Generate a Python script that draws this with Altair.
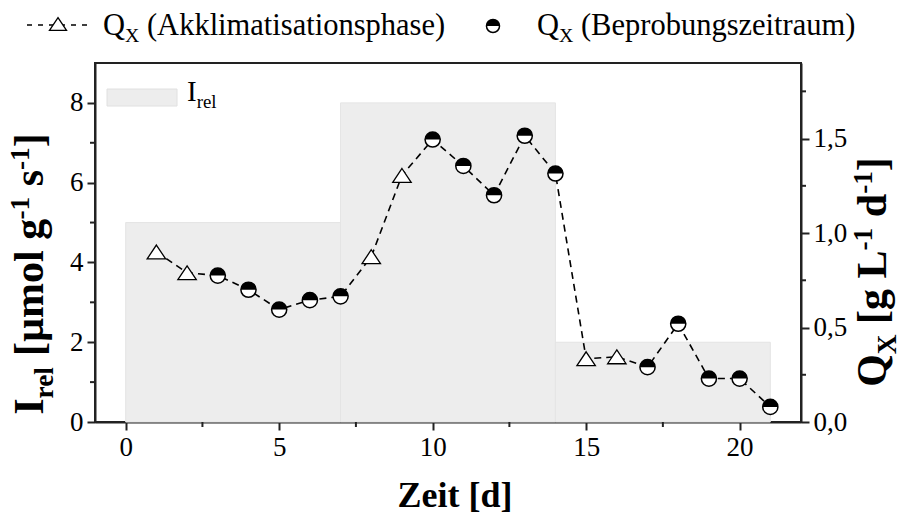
import altair as alt
import pandas as pd

# ---------------- data ----------------
days = list(range(1, 22))
qx = [0.90, 0.79, 0.775, 0.70, 0.595, 0.645, 0.665, 0.875, 1.305, 1.495, 1.355,
      1.20, 1.515, 1.315, 0.335, 0.345, 0.29, 0.52, 0.23, 0.23, 0.08]
phase = (["Akklimatisationsphase"] * 2 + ["Beprobungszeitraum"] * 5 +
         ["Akklimatisationsphase"] * 2 + ["Beprobungszeitraum"] * 5 +
         ["Akklimatisationsphase"] * 2 + ["Beprobungszeitraum"] * 5)
light_start = [0, 7, 14]
light_end = [7, 14, 21]
irel = [5, 8, 2]

x_ticks = [0, 5, 10, 15, 20]
x_minor = [2.5, 7.5, 12.5, 17.5]
yl_ticks = [0, 2, 4, 6, 8]
yl_minor = [1, 3, 5, 7]
yr_ticks = [0, 0.5, 1.0, 1.5]
yr_minor = [0.25, 0.75, 1.25, 1.75]

# ---------------- layout ----------------
W, H = 706, 359
PL, PT = 95, 63
FONT = "'Times New Roman', 'Liberation Serif', Times, 'DejaVu Serif', serif"
DARK = "#222222"
TRI = "M0,-0.75L1,0.75L-1,0.75Z"
HALF = "M-1,0A1,1,0,0,1,1,0Z"

REG = {' ': 250, '(': 333, ')': 333, '[': 333, ']': 333, '-': 333, '1': 500,
       'A': 722, 'B': 667, 'I': 333, 'L': 611, 'Q': 722, 'X': 722, 'a': 444,
       'b': 500, 'c': 444, 'd': 500, 'e': 444, 'g': 500, 'h': 500, 'i': 278,
       'k': 500, 'l': 278, 'm': 778, 'n': 500, 'o': 500, 'p': 500, 'r': 333,
       's': 389, 't': 278, 'u': 500, 'z': 444}
BOLD = {' ': 250, '[': 333, ']': 333, '-': 333, '1': 500, 'I': 389, 'L': 667,
        'Q': 778, 'X': 722, 'Z': 667, 'd': 556, 'e': 444, 'g': 500, 'i': 278,
        'l': 278, 'm': 833, 'o': 500, 'r': 444, 's': 389, 't': 333, 'µ': 556}

dummy = pd.DataFrame({"k": [0]})


def tw(s, fs, bold):
    t = BOLD if bold else REG
    return sum(t.get(c, 500) for c in s) * fs / 1000.0


def txt(s, sx, sy, fs, bold=False, angle=0, align="left"):
    return alt.Chart(dummy).mark_text(
        text=s, font=FONT, fontSize=fs, fontWeight="bold" if bold else "normal",
        angle=angle, align=align, baseline="alphabetic", color="black"
    ).encode(x=alt.value(sx - PL), y=alt.value(sy - PT))


def rich(parts, sx, sy, fs, bold=False, angle=0, center=False):
    small = fs * 0.65
    widths = []
    for s, kind in parts:
        f = fs if kind == "n" else small
        widths.append(tw(s, f, bold))
    total = sum(widths)
    pos = -total / 2 if center else 0
    out = []
    for (s, kind), w in zip(parts, widths):
        f = fs if kind == "n" else small
        shift = 0 if kind == "n" else (fs * 0.24 if kind == "sub" else -fs * 0.34)
        lead = len(s) - len(s.lstrip())
        p = pos + lead * 250 * f / 1000.0
        if angle == 0:
            x, y = sx + p, sy + shift
        else:
            x, y = sx + shift, sy - p
        out.append(txt(s.strip(), x, y, f, bold, angle))
        pos += w
    return out


# ---------------- scales / axes ----------------
xscale = alt.Scale(domain=[-1, 22], nice=False, zero=False)
ylscale = alt.Scale(domain=[0, 9], nice=False, zero=False)
yrscale = alt.Scale(domain=[0, 1.9], nice=False, zero=False)
common = dict(title=None, labelFontSize=27, labelFont=FONT, labelColor="black",
              tickSize=8, tickWidth=2, tickColor=DARK, domainColor=DARK,
              domainWidth=2, grid=False, labelFlush=False)
xax = alt.Axis(values=x_ticks, format="d", labelPadding=4, **common)
ylax = alt.Axis(values=yl_ticks, orient="left", format="d", labelPadding=4, **common)
yrax = alt.Axis(values=yr_ticks, orient="right", labelPadding=4,
                labelExpr="replace(format(datum.value, '.1f'), '.', ',')", **common)

rect_df = pd.DataFrame({"start": light_start, "end": light_end, "irel": irel})
pts_df = pd.DataFrame({"day": days, "qx": qx, "phase": phase})

rect = alt.Chart(rect_df).mark_rect(fill="#ededed", stroke="#e4e4e4", strokeWidth=1).encode(
    x=alt.X("start:Q", scale=xscale, axis=xax), x2="end:Q",
    y=alt.Y("irel:Q", scale=ylscale, axis=ylax), y2=alt.datum(0))

xm = alt.Chart(pd.DataFrame({"v": x_minor})).mark_rule(color=DARK, strokeWidth=2).encode(
    x=alt.X("v:Q", scale=xscale, axis=xax), y=alt.value(H), y2=alt.value(H + 5))
ylm = alt.Chart(pd.DataFrame({"v": yl_minor})).mark_rule(color=DARK, strokeWidth=2).encode(
    y=alt.Y("v:Q", scale=ylscale, axis=ylax), x=alt.value(-5), x2=alt.value(0))

# legend / titles (layout)
deco = []
# inset legend for I_rel
deco.append(alt.Chart(dummy).mark_rect(fill="#ededed", stroke="#e0e0e0", strokeWidth=1).encode(
    x=alt.value(107 - PL), x2=alt.value(177 - PL), y=alt.value(89 - PT), y2=alt.value(106 - PT)))
deco += rich([("I", "n"), ("rel", "sub")], 187, 101, 29)
# top legend
deco.append(alt.Chart(dummy).mark_rule(color="black", strokeWidth=1.5, strokeDash=[5, 6]).encode(
    x=alt.value(27 - PL), x2=alt.value(87 - PL), y=alt.value(25 - PT)))
deco.append(alt.Chart(dummy).mark_point(shape=TRI, filled=True, fill="white", stroke="black",
                                        strokeWidth=1.3, size=290, opacity=1).encode(
    x=alt.value(58 - PL), y=alt.value(24 - PT)))
deco += rich([("Q", "n"), ("X", "sub"), (" (Akklimatisationsphase)", "n")], 103, 35, 30.5)
deco.append(alt.Chart(dummy).mark_point(shape="circle", filled=True, fill="white", stroke="black",
                                        strokeWidth=1.5, size=170, opacity=1).encode(
    x=alt.value(493 - PL), y=alt.value(26 - PT)))
deco.append(alt.Chart(dummy).mark_point(shape=HALF, filled=True, fill="black", strokeWidth=0,
                                        size=170, opacity=1).encode(
    x=alt.value(493 - PL), y=alt.value(26 - PT)))
deco += rich([("Q", "n"), ("X", "sub"), (" (Beprobungszeitraum)", "n")], 537, 35, 30.5)
# axis titles
deco += rich([("I", "n"), ("rel", "sub"), (" [µmol g", "n"), ("-1", "sup"), (" s", "n"),
              ("-1", "sup"), ("]", "n")], 43, 274, 42, bold=True, angle=270, center=True)
deco += rich([("Q", "n"), ("X", "sub"), (" [g L", "n"), ("-1", "sup"), (" d", "n"),
              ("-1", "sup"), ("]", "n")], 886, 272, 42, bold=True, angle=270, center=True)
deco += rich([("Zeit [d]", "n")], 455, 507, 36, bold=True, center=True)

groupA = alt.layer(rect, xm, ylm, *deco)

line = alt.Chart(pts_df).mark_line(color="black", strokeDash=[7, 5], strokeWidth=1.6).encode(
    x=alt.X("day:Q", scale=xscale, axis=xax),
    y=alt.Y("qx:Q", scale=yrscale, axis=yrax), order="day:Q")
tri = alt.Chart(pts_df).transform_filter(alt.datum.phase == "Akklimatisationsphase").mark_point(
    shape=TRI, filled=True, fill="white", stroke="black", strokeWidth=1.3, size=340, opacity=1
).encode(x=alt.X("day:Q", scale=xscale, axis=xax), y=alt.Y("qx:Q", scale=yrscale, axis=yrax))
circ = alt.Chart(pts_df).transform_filter(alt.datum.phase == "Beprobungszeitraum").mark_point(
    shape="circle", filled=True, fill="white", stroke="black", strokeWidth=1.5, size=230, opacity=1
).encode(x=alt.X("day:Q", scale=xscale, axis=xax), y=alt.Y("qx:Q", scale=yrscale, axis=yrax))
half = alt.Chart(pts_df).transform_filter(alt.datum.phase == "Beprobungszeitraum").mark_point(
    shape=HALF, filled=True, fill="black", strokeWidth=0, size=230, opacity=1
).encode(x=alt.X("day:Q", scale=xscale, axis=xax), y=alt.Y("qx:Q", scale=yrscale, axis=yrax))
yrm = alt.Chart(pd.DataFrame({"v": yr_minor})).mark_rule(color=DARK, strokeWidth=2).encode(
    y=alt.Y("v:Q", scale=yrscale, axis=yrax), x=alt.value(W), x2=alt.value(W + 5))

groupB = alt.layer(line, tri, circ, half, yrm)

chart = alt.layer(groupA, groupB).resolve_scale(y="independent").properties(
    width=W, height=H,
    autosize=alt.AutoSizeParams(type="none"),
    padding={"left": PL, "top": PT, "right": 903 - PL - W, "bottom": 519 - PT - H},
    background="white",
).configure_view(stroke=DARK, strokeWidth=2)

chart.save("out.html", embed_options={"renderer": "svg", "actions": False})
